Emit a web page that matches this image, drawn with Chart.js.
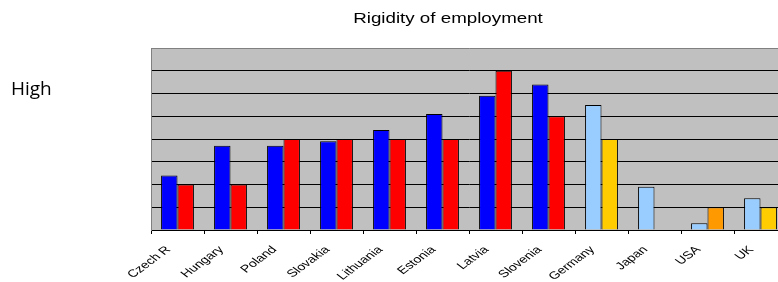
<!DOCTYPE html>
<html>
<head>
<meta charset="utf-8">
<script src="https://cdn.jsdelivr.net/npm/chart.js@4"></script>
<style>
  html, body { margin: 0; padding: 0; background: #fff; overflow: hidden; }
  #wrap { width: 790px; height: 282px; }
</style>
</head>
<body>
<div id="wrap"><canvas id="myChart" width="790" height="282"></canvas></div>
<script>
const countries = ['Czech R', 'Hungary', 'Poland', 'Slovakia', 'Lithuania', 'Estonia',
                   'Latvia', 'Slovenia', 'Germany', 'Japan', 'USA', 'UK'];
const firstValues  = [24, 37, 37, 39, 44, 51, 59, 64, 55, 19, 3, 14];
const secondValues = [20, 20, 40, 40, 40, 40, 70, 50, 40, null, 10, 10];
const yTicks = [0, 10, 20, 30, 40, 50, 60, 70, 80];

const firstColors = ['#0000FF','#0000FF','#0000FF','#0000FF','#0000FF','#0000FF','#0000FF','#0000FF',
                     '#99CCFF','#99CCFF','#99CCFF','#99CCFF'];
const secondColors = ['#FF0000','#FF0000','#FF0000','#FF0000','#FF0000','#FF0000','#FF0000','#FF0000',
                      '#FFCC00','#FFCC00','#FF9900','#FFCC00'];

// the original picture is stretched sideways, text too
const TITLE_STRETCH = 1.25;
const LABEL_STRETCH = 1.35;

const extras = {
    id: 'extras',
    beforeDraw(chart) {
        const a = chart.chartArea, c = chart.ctx;
        c.save();
        c.fillStyle = '#C0C0C0';
        c.fillRect(a.left, a.top, a.right - a.left, a.bottom - a.top);
        c.restore();
    },
    afterDraw(chart) {
        const c = chart.ctx;
        const xs = chart.scales.x;
        c.save();
        c.fillStyle = '#000';

        // title
        c.save();
        c.translate(448, 23);
        c.scale(TITLE_STRETCH, 1);
        c.font = '15px Arial, "Liberation Sans", sans-serif';
        c.textAlign = 'center';
        c.textBaseline = 'alphabetic';
        c.fillText('Rigidity of employment', 0, 0);
        c.restore();

        // side note
        c.font = '19px "Open Sans", sans-serif';
        c.textAlign = 'left';
        c.textBaseline = 'alphabetic';
        c.fillText('High', 11, 95);

        // category labels, rotated then stretched
        c.font = '10.5px Arial, "Liberation Sans", sans-serif';
        c.textAlign = 'right';
        c.textBaseline = 'middle';
        countries.forEach((name, i) => {
            const x = xs.getPixelForValue(i);
            c.save();
            c.translate(x - 9, xs.top + 18);
            c.scale(LABEL_STRETCH, 1);
            c.rotate(-Math.PI / 4);
            c.fillText(name, 0, 0);
            c.restore();
        });
        c.restore();
    }
};

Chart.defaults.color = '#000';
Chart.defaults.font.family = 'Arial, "Liberation Sans", sans-serif';

new Chart(document.getElementById('myChart'), {
    type: 'bar',
    data: {
        labels: countries,
        datasets: [{
            data: firstValues,
            backgroundColor: firstColors,
            borderColor: '#000',
            borderWidth: 1,
            categoryPercentage: 0.62,
            barPercentage: 1
        }, {
            data: secondValues,
            backgroundColor: secondColors,
            borderColor: '#000',
            borderWidth: 1,
            categoryPercentage: 0.62,
            barPercentage: 1
        }]
    },
    options: {
        responsive: false,
        animation: false,
        layout: { padding: { left: 151, top: 48, right: 3, bottom: 0 } },
        plugins: {
            legend: { display: false },
            title: { display: false },
            tooltip: { enabled: false }
        },
        scales: {
            x: {
                grid: { drawOnChartArea: false, drawTicks: true, tickLength: 4, color: '#000' },
                border: { color: '#000' },
                ticks: { display: false },
                afterFit(scale) { scale.height = 52; }
            },
            y: {
                min: 0,
                max: 80,
                afterBuildTicks(scale) { scale.ticks = yTicks.map(v => ({ value: v })); },
                ticks: { display: false },
                grid: {
                    drawTicks: false,
                    color: (ctx) => ctx.tick && ctx.tick.value === 80 ? '#808080' : '#000'
                },
                border: { color: '#808080' },
                afterFit(scale) { scale.width = 0; }
            }
        }
    },
    plugins: [extras]
});
</script>
</body>
</html>
